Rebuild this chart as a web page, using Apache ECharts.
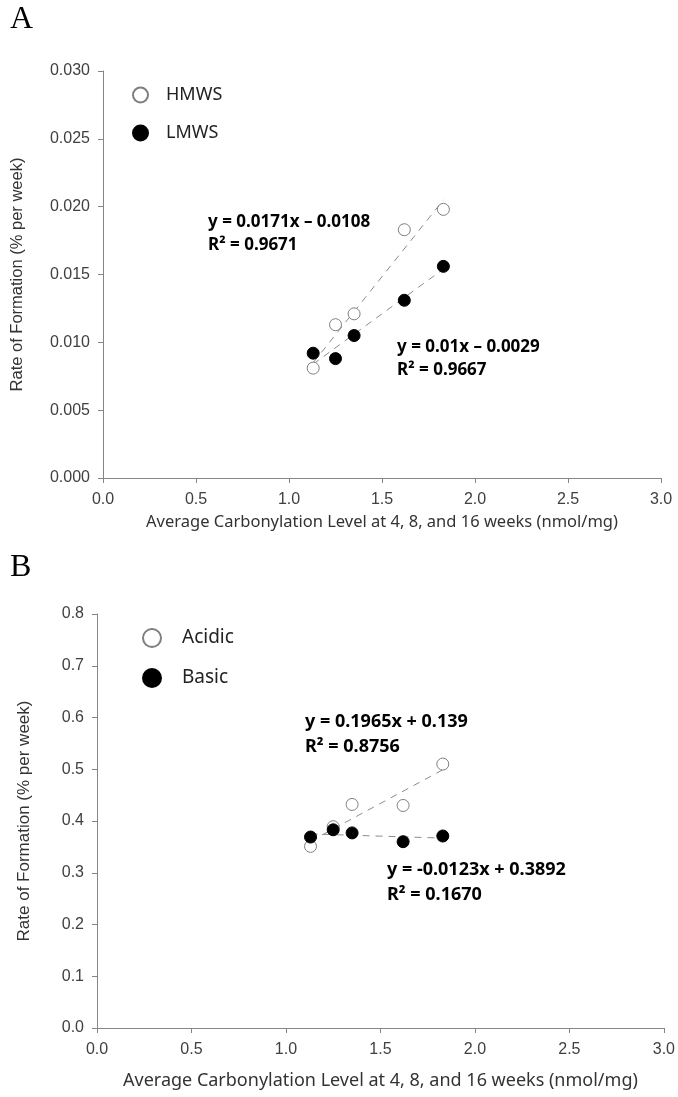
<!DOCTYPE html>
<html><head><meta charset="utf-8">
<script src="https://cdn.jsdelivr.net/npm/echarts@6/dist/echarts.min.js"></script>
<style>html,body{margin:0;padding:0;background:#fff}#c{width:678px;height:1097px}</style>
</head><body><div id="c"></div>
<script>
// ---- data ----
const carbonylation = [1.13, 1.25, 1.35, 1.62, 1.83];
const hmws = [0.0081, 0.0113, 0.0121, 0.0183, 0.0198];
const lmws = [0.0092, 0.0088, 0.0105, 0.0131, 0.0156];
const acidic = [0.351, 0.389, 0.432, 0.430, 0.510];
const basic = [0.369, 0.383, 0.377, 0.360, 0.371];
const trendX = [1.13, 1.83];
const hmwsTrend = [0.0085, 0.0205];
const lmwsTrend = [0.0084, 0.0154];
const acidicTrend = [0.361, 0.499];
const basicTrend = [0.375, 0.367];
const xTicks = [0.0, 0.5, 1.0, 1.5, 2.0, 2.5, 3.0];
const yTicksA = [0.000, 0.005, 0.010, 0.015, 0.020, 0.025, 0.030];
const yTicksB = [0.0, 0.1, 0.2, 0.3, 0.4, 0.5, 0.6, 0.7, 0.8];
const eqA = [['y = 0.0171x \u2013 0.0108', 'R\u00b2 = 0.9671'], ['y = 0.01x \u2013 0.0029', 'R\u00b2 = 0.9667']];
const eqB = [['y = 0.1965x + 0.139', 'R\u00b2 = 0.8756'], ['y = -0.0123x + 0.3892', 'R\u00b2 = 0.1670']];
const xTitle = 'Average Carbonylation Level at 4, 8, and 16 weeks (nmol/mg)';
const yTitle = 'Rate of Formation (% per week)';

const pts = (xs, ys) => xs.map((x, i) => [x, ys[i]]);
const axisGray = '#868686';
const labelColor = '#404040';

function xAxis(idx, nameSize, gap) {
  return {
    type: 'value', gridIndex: idx, min: xTicks[0], max: xTicks[xTicks.length - 1], interval: 0.5,
    splitLine: { show: false },
    axisLine: { lineStyle: { color: axisGray, width: 1 } },
    axisTick: { length: 5, lineStyle: { color: axisGray } },
    axisLabel: { formatter: v => v.toFixed(1), fontFamily: 'Liberation Sans', fontSize: 16, color: labelColor, margin: 14 },
    name: xTitle, nameLocation: 'middle', nameGap: gap,
    nameTextStyle: { fontFamily: 'Noto Sans', fontSize: nameSize, color: '#333' }
  };
}
function yAxis(idx, ticks, dec, interval, nameSize, gap) {
  return {
    type: 'value', gridIndex: idx, min: ticks[0], max: ticks[ticks.length - 1], interval: interval,
    splitLine: { show: false },
    axisLine: { show: true, lineStyle: { color: axisGray, width: 1 } },
    axisTick: { show: true, length: 5, lineStyle: { color: axisGray } },
    axisLabel: { formatter: v => v.toFixed(dec), fontFamily: 'Liberation Sans', fontSize: 16, color: labelColor, margin: 13 },
    name: yTitle, nameLocation: 'middle', nameRotate: 90, nameGap: gap,
    nameTextStyle: { fontFamily: 'Liberation Sans', fontSize: nameSize, color: '#333' }
  };
}
function scatter(name, data, idx, filled) {
  return {
    type: 'scatter', name: name, xAxisIndex: idx, yAxisIndex: idx, data: data,
    symbol: 'circle', symbolSize: 12, z: 5,
    itemStyle: filled ? { color: '#000', borderColor: '#000', borderWidth: 1, opacity: 1 } : { color: '#fff', borderColor: '#7f7f7f', borderWidth: 1, opacity: 1 }
  };
}
function trend(data, idx) {
  return {
    type: 'line', xAxisIndex: idx, yAxisIndex: idx, data: data, symbol: 'none', silent: true, z: 2,
    lineStyle: { color: '#8c8c8c', width: 1, type: [7, 6] }
  };
}
function eqText(x, y, lines, size) {
  return lines.map((t, i) => ({
    type: 'text', left: x, top: y[i] - size * 0.65,
    style: { text: t, fontFamily: 'Noto Sans', fontWeight: 'bold', fontSize: size, fill: '#000' }
  }));
}

const chart = echarts.init(document.getElementById('c'), null, { renderer: 'canvas' });
chart.setOption({
  animation: false,
  backgroundColor: '#fff',
  grid: [
    { left: 103, top: 71, width: 558, height: 407 },
    { left: 97, top: 614, width: 572, height: 414 }
  ],
  xAxis: [xAxis(0, 16.5, 36), xAxis(1, 18, 44)],
  yAxis: [yAxis(0, yTicksA, 3, 0.005, 16.5, 77), yAxis(1, yTicksB, 1, 0.1, 17, 64)],
  legend: [
    { data: ['HMWS', 'LMWS'], left: 132, top: 86, orient: 'vertical', padding: 0,
      itemWidth: 15, itemHeight: 15, itemGap: 20,
      textStyle: { fontFamily: 'Noto Sans', fontSize: 18, color: '#222', lineHeight: 15, padding: [0, 0, 0, 13] } },
    { data: ['Acidic', 'Basic'], left: 142, top: 628, orient: 'vertical', padding: 0,
      itemWidth: 18, itemHeight: 18, itemGap: 20,
      textStyle: { fontFamily: 'Noto Sans', fontSize: 19, color: '#222', lineHeight: 18, padding: [0, 0, 0, 16] } }
  ],
  series: [
    trend(pts(trendX, hmwsTrend), 0),
    trend(pts(trendX, lmwsTrend), 0),
    scatter('HMWS', pts(carbonylation, hmws), 0, false),
    scatter('LMWS', pts(carbonylation, lmws), 0, true),
    trend(pts(trendX, acidicTrend), 1),
    trend(pts(trendX, basicTrend), 1),
    scatter('Acidic', pts(carbonylation, acidic), 1, false),
    scatter('Basic', pts(carbonylation, basic), 1, true)
  ],
  graphic: [
    { type: 'text', left: 10, top: 4, style: { text: 'A', fontFamily: 'Liberation Serif', fontSize: 32, fill: '#000' } },
    { type: 'text', left: 10, top: 552, style: { text: 'B', fontFamily: 'Liberation Serif', fontSize: 32, fill: '#000' } }
  ].concat(
    eqText(208, [225, 248], eqA[0], 17),
    eqText(397, [350, 373], eqA[1], 17),
    eqText(305, [725, 750], eqB[0], 18),
    eqText(387, [873, 898], eqB[1], 18)
  )
});
</script>
</body></html>
